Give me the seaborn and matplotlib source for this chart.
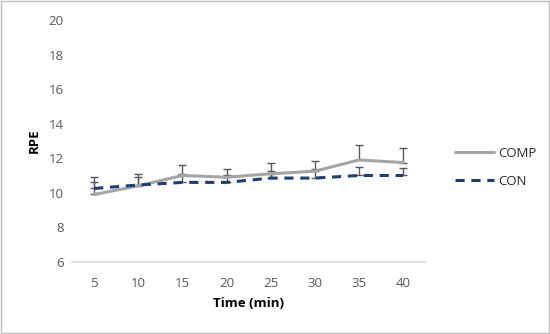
import numpy as np
import pandas as pd
import matplotlib
matplotlib.use("Agg")
import matplotlib.pyplot as plt
import seaborn as sns
from matplotlib.patches import Rectangle
from matplotlib.lines import Line2D

time_min = [5, 10, 15, 20, 25, 30, 35, 40]
comp_rpe = [9.9, 10.4, 11.0, 10.9, 11.1, 11.25, 11.9, 11.75]
comp_err = [0.7, 0.7, 0.6, 0.5, 0.65, 0.6, 0.87, 0.87]
con_rpe = [10.25, 10.45, 10.6, 10.6, 10.85, 10.85, 11.0, 11.0]
con_err = [0.65, 0.45, 0.5, 0.45, 0.4, 0.5, 0.47, 0.45]
y_ticks = [6, 8, 10, 12, 14, 16, 18, 20]

sns.set_theme(style="white")
plt.rcParams['font.family'] = ['Open Sans', 'DejaVu Sans']

df = pd.DataFrame({
    "Time": time_min * 2,
    "RPE": comp_rpe + con_rpe,
    "Group": ["COMP"] * len(time_min) + ["CON"] * len(time_min),
})

fig = plt.figure(figsize=(5.5, 3.34), dpi=100)
ax = fig.add_axes([0.131, 0.216, 0.642, 0.724])

err_col = "#595959"
ax.errorbar(time_min, comp_rpe, yerr=[np.zeros(len(comp_err)), comp_err],
            fmt="none", ecolor=err_col, elinewidth=1, capsize=3, capthick=1, zorder=1)
ax.errorbar(time_min, con_rpe, yerr=[np.zeros(len(con_err)), con_err],
            fmt="none", ecolor=err_col, elinewidth=1, capsize=3, capthick=1, zorder=1)

sns.lineplot(data=df, x="Time", y="RPE", hue="Group", style="Group",
             palette={"COMP": "#A5A5A5", "CON": "#1F3F6E"},
             dashes={"COMP": "", "CON": (3, 2.2)},
             linewidth=2.2, ax=ax, legend=False, zorder=2)

ax.set_xlim(2.5, 42.5)
ax.set_ylim(6, 20)
ax.set_xticks(time_min)
ax.set_yticks(y_ticks)
ax.tick_params(axis="x", length=0, labelsize=9.5, labelcolor="#595959", pad=11)
ax.tick_params(axis="y", length=0, labelsize=9.5, labelcolor="#595959", pad=6)
for s in ["top", "right", "left"]:
    ax.spines[s].set_visible(False)
ax.spines["bottom"].set_color("#D9D9D9")
ax.spines["bottom"].set_linewidth(1.2)

ax.set_xlabel("Time (min)", fontsize=9.5, fontweight="bold", color="black", labelpad=5)
ax.set_ylabel("RPE", fontsize=9.5, fontweight="bold", color="black", labelpad=6)

handles = [Line2D([0], [0], color="#A5A5A5", lw=2.2),
           Line2D([0], [0], color="#1F3F6E", lw=2.2, ls=(0, (3, 2.2)))]
fig.legend(handles, ["COMP", "CON"], loc="center left",
           bbox_to_anchor=(0.805, 0.499), frameon=False, fontsize=9.5,
           handlelength=3.0, handletextpad=0.3, labelspacing=1.1)

fig.add_artist(Rectangle((0.001, 0.002), 0.997, 0.995, transform=fig.transFigure,
                         fill=False, edgecolor="#BFBFBF", linewidth=1))

fig.savefig("out.png", dpi=100)
